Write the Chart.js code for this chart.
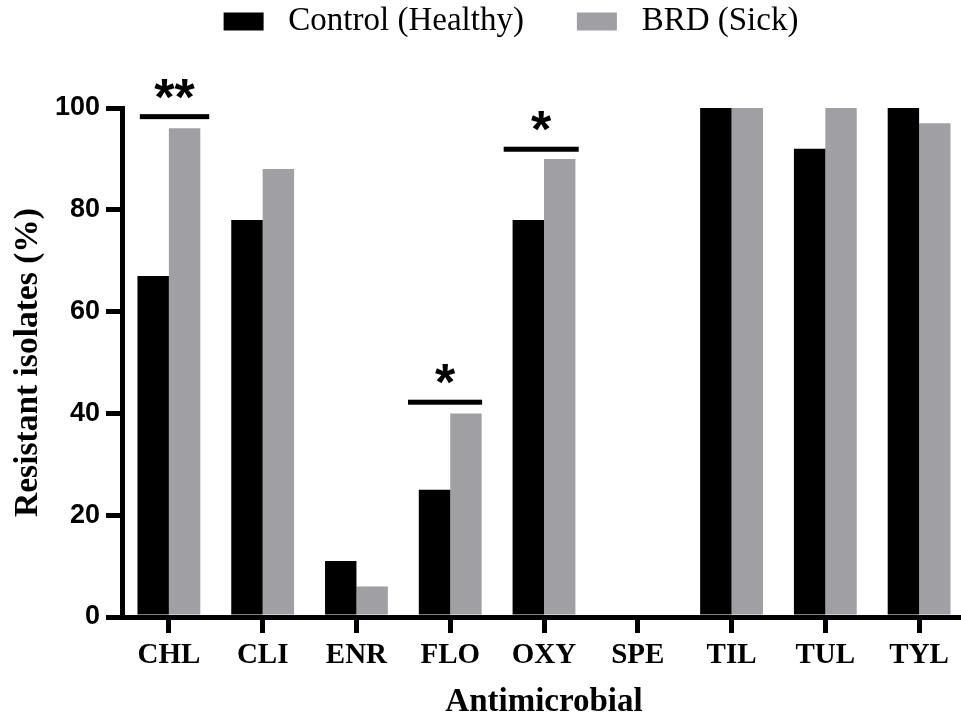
<!DOCTYPE html>
<html><head><meta charset="utf-8">
<script src="https://cdn.jsdelivr.net/npm/chart.js@4.4.1/dist/chart.umd.min.js"></script>
<style>html,body{margin:0;padding:0;overflow:hidden;background:#fff;}#wrap{width:970px;height:722px;}</style>
</head><body><div id="wrap"><canvas id="c" width="970" height="722" style="width:970px;height:722px"></canvas></div>
<script>
const categories = ['CHL','CLI','ENR','FLO','OXY','SPE','TIL','TUL','TYL'];
const controlHealthy = [67,78,11,25,78,0,100,92,100];
const brdSick = [96,88,6,40,90,0,100,100,97];
const yTicks = [0,20,40,60,80,100];
const sigCategory = ['CHL','FLO','OXY'];
const sigMarks = ['**','*','*'];
const sigLevel = [98.3,42.2,91.9];

const legendShift = {
  id:'legendShift',
  afterLayout(chart, args, opts){
    const l = chart.legend;
    if(!l) return;
    l.left += opts.dx; l.right += opts.dx;
    l.top += opts.dy; l.bottom += opts.dy;
  }
};

const sigPlugin = {
  id:'sig',
  afterDatasetsDraw(chart, args, opts){
    const {ctx, scales:{x,y}} = chart;
    ctx.save();
    ctx.fillStyle = '#000';
    sigCategory.forEach((cat,i)=>{
      const idx = categories.indexOf(cat);
      const py = y.getPixelForValue(sigLevel[i]);
      const x0 = x.getPixelForValue(idx + opts.spans[i][0]);
      const x1 = x.getPixelForValue(idx + opts.spans[i][1]);
      ctx.fillRect(x0, py - opts.lineWidth/2, x1 - x0, opts.lineWidth);
      ctx.font = opts.font;
      ctx.textAlign = 'center';
      ctx.textBaseline = 'alphabetic';
      ctx.fillText(sigMarks[i], (x0+x1)/2, py + opts.markOffset);
    });
    ctx.restore();
  }
};

new Chart(document.getElementById('c'), {
  type:'bar',
  data:{
    labels: categories,
    datasets:[
      {label:'Control (Healthy)', data: controlHealthy, backgroundColor:'#000000', borderWidth:0, barPercentage:1, categoryPercentage:0.67},
      {label:'BRD (Sick)', data: brdSick, backgroundColor:'#a0a0a4', borderWidth:0, barPercentage:1, categoryPercentage:0.67}
    ]
  },
  plugins:[legendShift, sigPlugin],
  options:{
    responsive:false, animation:false, devicePixelRatio:1,
    layout:{padding:{top:12,right:4,left:0,bottom:0}},
    plugins:{
      tooltip:{enabled:false},
      legend:{
        position:'top',
        labels:{
          boxWidth:40, boxHeight:18, padding:53, color:'#000',
          font:{family:'"Liberation Serif"', size:33},
          generateLabels(chart){
            return Chart.defaults.plugins.legend.labels.generateLabels(chart).map(it=>Object.assign(it,{text:' '+it.text, lineWidth:0}));
          }
        }
      },
      legendShift:{dx:28, dy:-60},
      sig:{spans:[[-0.31,0.43],[-0.45,0.34],[-0.43,0.37]], lineWidth:5, font:'bold 52px "Liberation Sans"', markOffset:-2}
    },
    scales:{
      x:{
        offset:true,
        grid:{offset:false, drawOnChartArea:false, color:'#000', lineWidth:5, tickLength:16},
        border:{color:'#000', width:5},
        ticks:{color:'#000', font:{family:'"Liberation Serif"', weight:'bold', size:29}, padding:5, maxRotation:0, autoSkip:false},
        title:{display:true, text:'Antimicrobial', color:'#000', font:{family:'"Liberation Serif"', weight:'bold', size:33}, padding:{top:0,bottom:0}},
        afterFit(s){ s.height = 105; }
      },
      y:{
        min:0, max:100,
        afterBuildTicks(s){ s.ticks = yTicks.map(v=>({value:v})); },
        grid:{drawOnChartArea:false, color:'#000', lineWidth:5, tickLength:16},
        border:{color:'#000', width:5},
        ticks:{color:'#000', font:{family:'"Liberation Sans"', weight:'bold', size:27}, padding:6},
        title:{display:true, text:'Resistant isolates (%)', color:'#000', font:{family:'"Liberation Serif"', weight:'bold', size:33.5}, padding:{top:8,bottom:0}},
        afterFit(s){ s.width = 122; }
      }
    }
  }
});
</script></body></html>
